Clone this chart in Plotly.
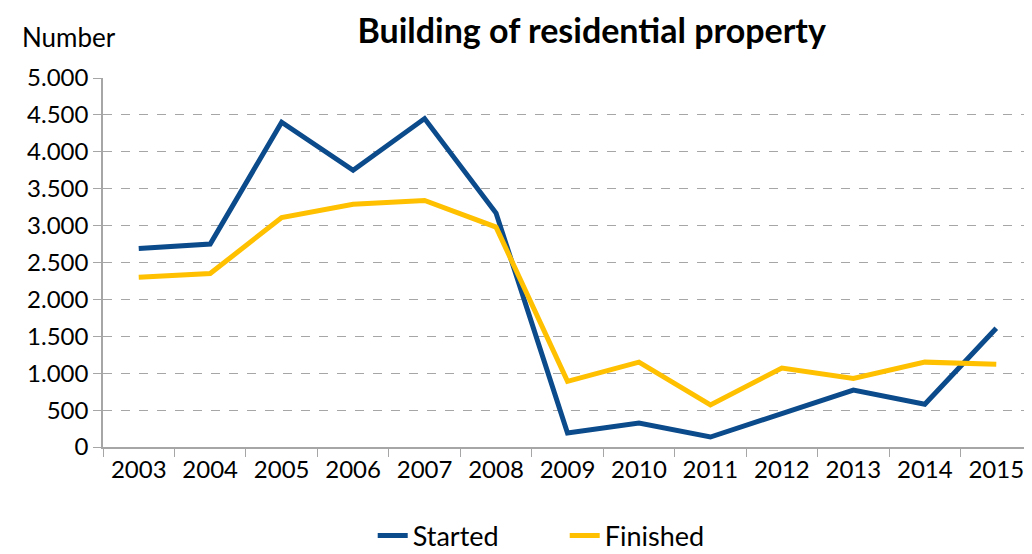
import plotly.graph_objects as go

years = ["2003", "2004", "2005", "2006", "2007", "2008", "2009", "2010", "2011", "2012", "2013", "2014", "2015"]
started = [2690, 2750, 4400, 3750, 4450, 3170, 190, 325, 135, 460, 770, 580, 1610]
finished = [2300, 2350, 3110, 3290, 3340, 2980, 890, 1150, 570, 1070, 930, 1150, 1120]
y_ticks = [0, 500, 1000, 1500, 2000, 2500, 3000, 3500, 4000, 4500, 5000]

FONT = "Lato"

fig = go.Figure()
fig.add_trace(go.Scatter(x=years, y=started, mode="lines", name="Started",
                         line=dict(color="#0B4A8B", width=5)))
fig.add_trace(go.Scatter(x=years, y=finished, mode="lines", name="Finished",
                         line=dict(color="#FFC000", width=5)))

# page body has an 8px default margin, so the figure is sized/offset to compensate
fig.update_layout(
    width=1024, height=546,
    paper_bgcolor="white", plot_bgcolor="white",
    separators=",.",
    margin=dict(l=95, r=0, t=70, b=107, autoexpand=False),
    font=dict(family=FONT, size=24, color="#000000"),
    title=dict(text="<b>Building of residential property</b>", x=0.570, xanchor="center",
               y=0.958, yanchor="middle", font=dict(size=34, family=FONT)),
    legend=dict(orientation="h", x=0.497, xanchor="center", y=-0.241, yanchor="middle",
                font=dict(size=27, family=FONT), entrywidth=147, entrywidthmode="pixels"),
)
fig.layout.annotations = [dict(text="Number", xref="paper", yref="paper", x=-0.0893, y=1.111,
                               xanchor="left", yanchor="middle", showarrow=False,
                               font=dict(size=26, family=FONT))]

fig.update_xaxes(type="category", tickson="boundaries", ticks="outside", ticklen=8,
                 tickcolor="#A6A6A6", showline=True, linecolor="#A6A6A6", linewidth=1.5,
                 showgrid=False, range=[-0.5, 12.5], tickfont=dict(size=24), automargin=False)
fig.update_yaxes(range=[0, 5000], tickvals=y_ticks,
                 tickformat=",d", ticks="outside", ticklen=8, tickcolor="#A6A6A6",
                 showline=True, linecolor="#A6A6A6", linewidth=1.5,
                 showgrid=True, gridcolor="#A6A6A6", griddash="dash", gridwidth=1,
                 zeroline=False, tickfont=dict(size=24), automargin=False)

fig.write_html("out.html")
